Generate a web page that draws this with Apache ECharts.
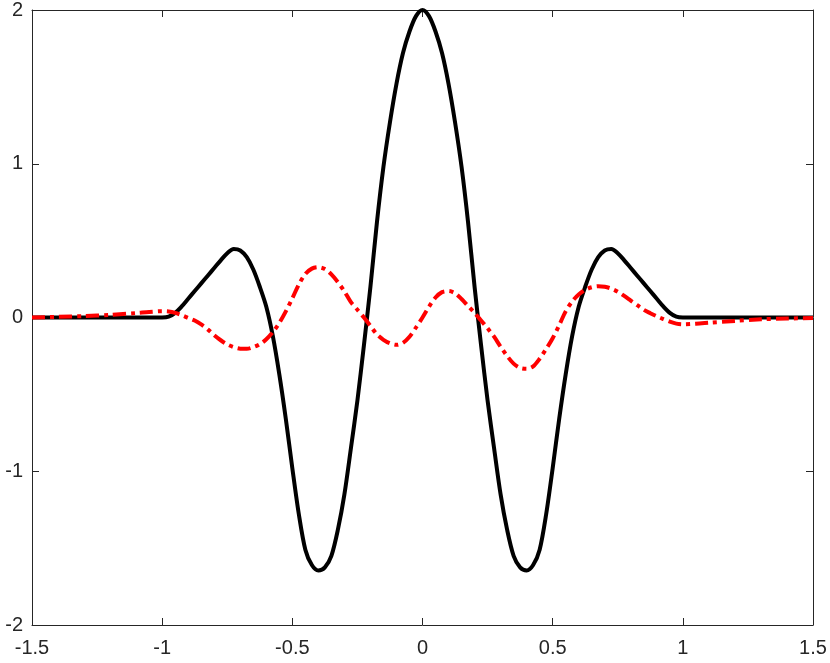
<!DOCTYPE html>
<html>
<head>
<meta charset="utf-8">
<script src="https://cdn.jsdelivr.net/npm/echarts@6/dist/echarts.min.js"></script>
<style>html,body{margin:0;padding:0;background:#fff}#c{width:830px;height:663px}</style>
</head>
<body>
<div id="c"></div>
<script>
// Black (solid) curve samples
var blackX = [-1.5, -1.25, -1.0, -0.975, -0.95, -0.925, -0.9, -0.875, -0.85, -0.825, -0.8, -0.775, -0.75, -0.725, -0.7, -0.675, -0.65, -0.625, -0.6, -0.575, -0.55, -0.525, -0.5, -0.475, -0.45, -0.425, -0.4, -0.375, -0.35, -0.325, -0.3, -0.275, -0.25, -0.225, -0.2, -0.175, -0.15, -0.125, -0.1, -0.075, -0.05, -0.025, 0,
              0.025, 0.05, 0.075, 0.1, 0.125, 0.15, 0.175, 0.2, 0.225, 0.25, 0.275, 0.3, 0.325, 0.35, 0.375, 0.4, 0.425, 0.45, 0.475, 0.5, 0.525, 0.55, 0.575, 0.6, 0.625, 0.65, 0.675, 0.7, 0.725, 0.75, 0.775, 0.8, 0.825, 0.85, 0.875, 0.9, 0.925, 0.95, 0.975, 1.0, 1.25, 1.5];
var blackY = [0, 0, 0, 0.005, 0.03, 0.072, 0.122, 0.172, 0.222, 0.272, 0.322, 0.372, 0.418, 0.445, 0.436, 0.392, 0.312, 0.2, 0.07, -0.12, -0.37, -0.66, -0.98, -1.28, -1.51, -1.61, -1.645, -1.625, -1.55, -1.38, -1.15, -0.85, -0.54, -0.18, 0.2, 0.62, 0.98, 1.27, 1.52, 1.72, 1.86, 1.96, 2.0,
              1.96, 1.86, 1.72, 1.52, 1.27, 0.98, 0.62, 0.2, -0.18, -0.54, -0.85, -1.15, -1.38, -1.55, -1.625, -1.645, -1.61, -1.51, -1.28, -0.98, -0.66, -0.37, -0.12, 0.07, 0.2, 0.312, 0.392, 0.436, 0.445, 0.418, 0.372, 0.322, 0.272, 0.222, 0.172, 0.122, 0.072, 0.03, 0.005, 0, 0, 0];
// Red (dash-dot) curve samples
var redX = [-1.5, -1.4, -1.3, -1.2, -1.1, -1.05, -1.0, -0.975, -0.95, -0.925, -0.9, -0.875, -0.85, -0.825, -0.8, -0.775, -0.75, -0.725, -0.7, -0.675, -0.65, -0.625, -0.6, -0.575, -0.55, -0.525, -0.5, -0.475, -0.45, -0.425, -0.4, -0.375, -0.35, -0.325, -0.3, -0.275, -0.25, -0.225, -0.2, -0.175, -0.15, -0.125, -0.1, -0.075, -0.05, -0.025, 0,
            0.025, 0.05, 0.075, 0.1, 0.125, 0.15, 0.175, 0.2, 0.225, 0.25, 0.275, 0.3, 0.325, 0.35, 0.375, 0.4, 0.425, 0.45, 0.475, 0.5, 0.525, 0.55, 0.575, 0.6, 0.625, 0.65, 0.675, 0.7, 0.725, 0.75, 0.775, 0.8, 0.825, 0.85, 0.875, 0.9, 0.925, 0.95, 0.975, 1.0, 1.05, 1.1, 1.2, 1.3, 1.4, 1.5];
var redY = [0, 0.004, 0.009, 0.017, 0.029, 0.036, 0.041, 0.039, 0.03, 0.015, -0.003, -0.02, -0.045, -0.077, -0.115, -0.148, -0.175, -0.193, -0.203, -0.204, -0.193, -0.174, -0.142, -0.095, -0.035, 0.04, 0.125, 0.215, 0.283, 0.318, 0.327, 0.315, 0.28, 0.23, 0.17, 0.1, 0.05, 0.0, -0.055, -0.11, -0.145, -0.168, -0.178, -0.165, -0.125, -0.065, 0.0,
            0.07, 0.13, 0.165, 0.172, 0.158, 0.12, 0.075, 0.03, -0.02, -0.07, -0.125, -0.19, -0.25, -0.3, -0.328, -0.334, -0.318, -0.268, -0.205, -0.135, -0.05, 0.04, 0.105, 0.15, 0.18, 0.197, 0.204, 0.2, 0.188, 0.168, 0.14, 0.11, 0.08, 0.05, 0.028, 0.008, -0.01, -0.027, -0.04, -0.044, -0.04, -0.034, -0.022, -0.012, -0.007, -0.004];
var xTicks = [-1.5, -1, -0.5, 0, 0.5, 1, 1.5];
var yTicks = [-2, -1, 0, 1, 2];

function pairs(xs, ys) { return xs.map(function (x, i) { return [x, ys[i]]; }); }

var axisColor = '#262626';
var fontFam = '"Liberation Sans", Arial, Helvetica, sans-serif';
function fmt(v) { return String(v); }

var chart = echarts.init(document.getElementById('c'), null, { renderer: 'canvas' });
chart.setOption({
  animation: false,
  backgroundColor: '#fff',
  grid: { left: 32, right: 17, top: 8, bottom: 38, containLabel: false },
  xAxis: [{
    type: 'value', min: xTicks[0], max: xTicks[xTicks.length - 1], interval: 0.5,
    position: 'bottom',
    axisLine: { show: true, onZero: false, lineStyle: { color: axisColor, width: 1 } },
    axisTick: { show: true, inside: true, length: 7, lineStyle: { color: axisColor } },
    axisLabel: { color: axisColor, fontSize: 20, fontFamily: fontFam, margin: 13, formatter: fmt },
    splitLine: { show: false }
  }, {
    type: 'value', min: xTicks[0], max: xTicks[xTicks.length - 1], interval: 0.5,
    position: 'top',
    axisLine: { show: true, onZero: false, lineStyle: { color: axisColor, width: 1 } },
    axisTick: { show: true, inside: true, length: 7, lineStyle: { color: axisColor } },
    axisLabel: { show: false },
    splitLine: { show: false }
  }],
  yAxis: [{
    type: 'value', min: yTicks[0], max: yTicks[yTicks.length - 1], interval: 1,
    position: 'left',
    axisLine: { show: true, onZero: false, lineStyle: { color: axisColor, width: 1 } },
    axisTick: { show: true, inside: true, length: 7, lineStyle: { color: axisColor } },
    axisLabel: { color: axisColor, fontSize: 20, fontFamily: fontFam, margin: 9, formatter: fmt },
    splitLine: { show: false }
  }, {
    type: 'value', min: yTicks[0], max: yTicks[yTicks.length - 1], interval: 1,
    position: 'right',
    axisLine: { show: true, onZero: false, lineStyle: { color: axisColor, width: 1 } },
    axisTick: { show: true, inside: true, length: 7, lineStyle: { color: axisColor } },
    axisLabel: { show: false },
    splitLine: { show: false }
  }],
  series: [{
    type: 'line', xAxisIndex: 0, yAxisIndex: 0,
    data: pairs(blackX, blackY),
    showSymbol: false, smooth: 0.3,
    lineStyle: { color: '#000000', width: 4, cap: 'butt', join: 'round' },
    z: 2
  }, {
    type: 'line', xAxisIndex: 0, yAxisIndex: 0,
    data: pairs(redX, redY),
    showSymbol: false, smooth: 0.3,
    lineStyle: { color: '#ff0000', width: 4, type: [13, 5, 4, 5], cap: 'butt', join: 'round' },
    z: 3
  }]
});
</script>
</body>
</html>
